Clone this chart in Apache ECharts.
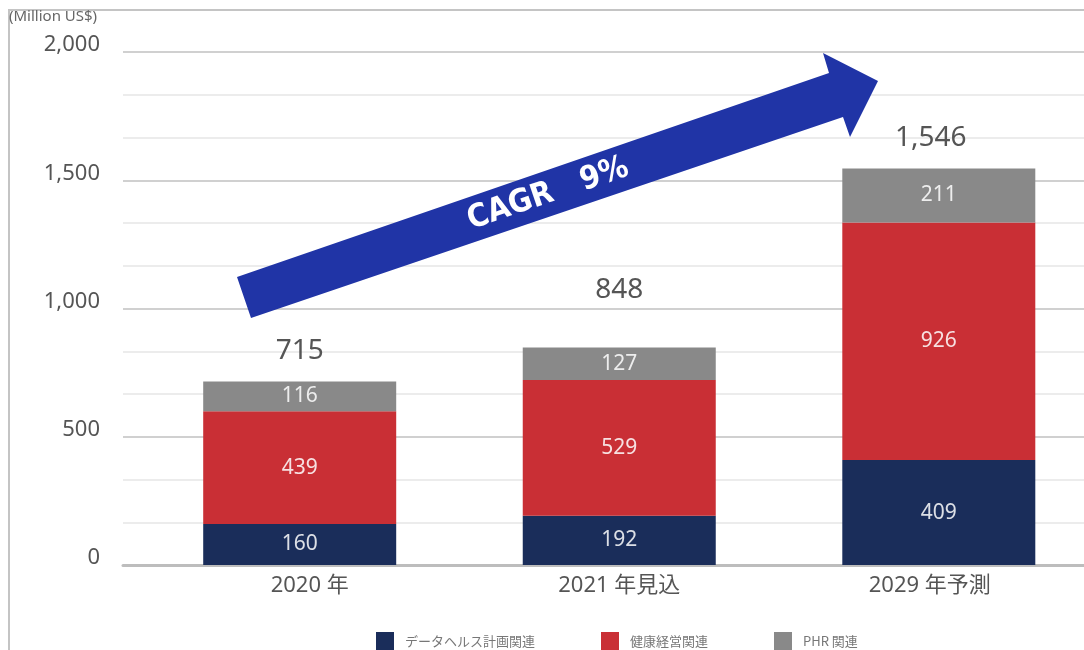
<!DOCTYPE html>
<html><head><meta charset="utf-8">
<script src="https://cdn.jsdelivr.net/npm/echarts@6/dist/echarts.min.js"></script>
<style>html,body{margin:0;padding:0;background:#fff}#c{width:1084px;height:650px}</style>
</head><body><div id="c"></div>
<script>
const categories = ['2020 年', '2021 年見込', '2029 年予測'];
const seriesNames = ['データヘルス計画関連', '健康経営関連', 'PHR 関連'];
const dataHealth = [160, 192, 409];
const wellness = [439, 529, 926];
const phr = [116, 127, 211];
const totals = [715, 848, 1546];
const yTickLabels = ['0', '500', '1,000', '1,500', '2,000'];

const FONT = "'Noto Sans', 'Noto Sans CJK JP', sans-serif";
const colors = ['#1a2d5a', '#c92f35', '#898989'];
const chart = echarts.init(document.getElementById('c'), null, {renderer: 'canvas'});

const segLabel = {show: true, position: 'inside', color: 'rgba(255,255,255,0.85)', fontSize: 21, fontFamily: FONT};
const stacks = [dataHealth, wellness, phr].map((arr, i) => ({
  name: seriesNames[i], type: 'bar', stack: 'a', xAxisIndex: 1, yAxisIndex: 1, clip: false,
  barWidth: 193, data: arr, itemStyle: {color: colors[i]}, label: segLabel
}));
const totalDist = [17, 43, 16];
const totalShift = [0, 0, -8];
stacks.push({
  name: 'total', type: 'bar', stack: 'a', xAxisIndex: 1, yAxisIndex: 1, barWidth: 193, clip: false,
  data: totals.map((t, i) => ({value: 0, label: {distance: totalDist[i], offset: [totalShift[i], 0]}})),
  itemStyle: {color: 'transparent'},
  label: {show: true, position: 'top', color: '#555', fontSize: 28, fontFamily: FONT,
    formatter: p => totals[p.dataIndex].toLocaleString('en-US')},
  silent: true
});

const catPad = [[0, 0, 0, 20], [0, 0, 0, 0], [0, 18, 0, 0]];
const option = {
  animation: false,
  textStyle: {fontFamily: FONT},
  grid: [
    {left: 123, right: 0, top: 52, bottom: 85},
    {left: 299.7, right: 145.2, top: 52, bottom: 85}
  ],
  xAxis: [
    {gridIndex: 0, type: 'category', data: categories, axisLabel: {show: false}, axisTick: {show: false},
      axisLine: {show: true, lineStyle: {color: '#bdbdbd', width: 3}}},
    {gridIndex: 1, type: 'category', boundaryGap: false, axisTick: {show: false}, axisLine: {show: false},
      data: categories.map((c, i) => ({value: c, textStyle: {padding: catPad[i]}})),
      splitLine: {show: false},
      axisLabel: {color: '#555', fontSize: 22, margin: 10, fontFamily: FONT, interval: 0}}
  ],
  yAxis: [
    {gridIndex: 0, type: 'value', min: 0, max: 2000, interval: 500 / 3,
      axisLine: {show: false}, axisTick: {show: false},
      axisLabel: {color: '#555', fontSize: 22, margin: 23, fontFamily: FONT, verticalAlign: 'bottom', lineHeight: 14,
        formatter: v => { const r = Math.round(v); return r % 500 === 0 ? yTickLabels[r / 500] : ''; }},
      splitLine: {lineStyle: {color: ['#d0d0d0', '#ececec', '#ececec'], width: 2}}},
    {gridIndex: 1, type: 'value', min: 0, max: 2000, show: false, splitLine: {show: false}}
  ],
  legend: {
    data: seriesNames, left: 376, top: 632, padding: 0, itemWidth: 18, itemHeight: 18, itemGap: 66,
    icon: 'rect', textStyle: {color: '#777', fontSize: 13, fontFamily: "'Noto Sans CJK JP', sans-serif", padding: [0, 0, 0, 6]}
  },
  series: stacks,
  graphic: [
    {type: 'polyline', silent: true, z: 100, shape: {points: [[1084, 10], [9, 10], [9, 650]]},
      style: {stroke: '#c4c4c4', lineWidth: 2, fill: null}},
    {type: 'text', left: 9, top: 9, z: 100, style: {text: '(Million US$)', fill: '#666', fontSize: 15, fontFamily: FONT}},
    {type: 'polygon', silent: true, z: 100,
      shape: {points: [[237, 277], [829, 73], [823, 53], [878, 81], [850, 137], [843, 117], [251, 318]]},
      style: {fill: '#2034a6'}},
    {type: 'text', x: 548, y: 194, z: 101, rotation: 19 * Math.PI / 180,
      style: {text: 'CAGR   9%', fill: '#fff', fontSize: 32, fontWeight: 'bold',
        fontFamily: "'Liberation Sans Narrow', 'DejaVu Sans Condensed', sans-serif",
        align: 'center', verticalAlign: 'middle'}}
  ]
};
chart.setOption(option);
</script></body></html>
